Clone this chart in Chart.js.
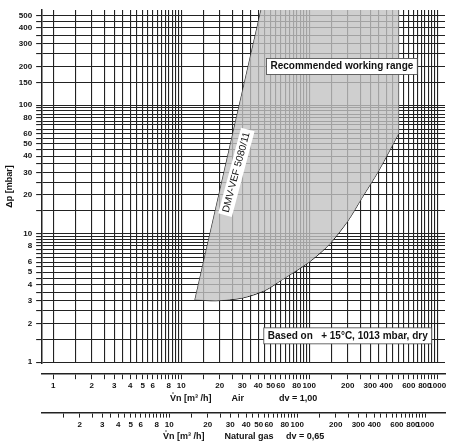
<!DOCTYPE html>
<html lang="en">
<head>
  <meta charset="UTF-8">
  <title>Pressure drop chart</title>
  <script src="https://cdn.jsdelivr.net/npm/chart.js"></script>
  <style>
    body { margin: 0; background: #fff; }
    #wrap { width: 457px; height: 448px; }
  </style>
</head>
<body>
<div id="wrap"><canvas id="chart"></canvas></div>
<script>
  // grid steps inside one decade
  const decadeSteps = [1, 1.5, 2, 2.5, 3, 3.5, 4, 4.5, 5, 5.5, 6, 6.5, 7, 7.5, 8, 8.5, 9, 9.5];
  const xLabels = [1, 2, 3, 4, 5, 6, 8, 10, 20, 30, 40, 50, 60, 80, 100, 200, 300, 400, 600, 800, 1000];
  const gasLabels = [2, 3, 4, 5, 6, 8, 10, 20, 30, 40, 50, 60, 80, 100, 200, 300, 400, 600, 800, 1000];
  const yLabels = [1, 2, 3, 4, 5, 6, 8, 10, 20, 30, 40, 50, 60, 80, 100, 150, 200, 300, 400, 500];

  // boundary of the recommended working range (air flow, mbar)
  const leftEdgeX = [12.8, 42];
  const leftEdgeY = [3.05, 550];
  const bottomX = [12.8, 18.7, 30, 45, 62, 100, 143, 200, 257, 350, 500];
  const bottomY = [3.05, 3.0, 3.15, 3.6, 4.4, 6.0, 8.2, 12.5, 18.8, 31, 60];
  const rightEdgeX = [500, 500];
  const rightEdgeY = [60, 550];

  const gasFactor = 1.24; // sqrt(1 / 0.65)
  const xMin = 0.82, xMax = 1150, yMin = 0.98, yMax = 550;

  function gridValues(lo, hi) {
    const out = [];
    for (let d = 0.1; d <= 1000; d *= 10) {
      decadeSteps.forEach(s => {
        const v = Math.round(s * d * 1000) / 1000;
        if (v >= lo && v <= hi) out.push(v);
      });
    }
    return out;
  }

  const curve = bottomX.map((x, i) => ({ x: x, y: bottomY[i] }));
  const polygon = [
    { x: leftEdgeX[0], y: leftEdgeY[0] },
    { x: leftEdgeX[1], y: leftEdgeY[1] },
    { x: rightEdgeX[1], y: rightEdgeY[1] },
    { x: rightEdgeX[0], y: rightEdgeY[0] }
  ].concat(curve.slice().reverse());
  const leftLine = leftEdgeX.map((x, i) => ({ x: x, y: leftEdgeY[i] }));

  // text boxes drawn on top
  const notes = {
    id: 'notes',
    afterDatasetsDraw(chart) {
      const c = chart.ctx, xs = chart.scales.x, ys = chart.scales.y;
      function box(text, px, py) {
        c.save();
        c.font = 'bold 10px Arial, "Liberation Sans", sans-serif';
        const w = c.measureText(text).width + 8;
        c.fillStyle = '#fff';
        c.fillRect(px - w / 2, py - 8, w, 16);
        c.strokeStyle = '#444';
        c.lineWidth = 0.8;
        c.strokeRect(px - w / 2, py - 8, w, 16);
        c.fillStyle = '#111';
        c.textAlign = 'center';
        c.textBaseline = 'middle';
        c.fillText(text, px, py);
        c.restore();
      }
      box('Recommended working range', xs.getPixelForValue(180), ys.getPixelForValue(200));
      box('Based on   + 15\u00B0C, 1013 mbar, dry', xs.getPixelForValue(200), ys.getPixelForValue(1.6));
      c.save();
      c.font = '10px Arial, "Liberation Sans", sans-serif';
      c.translate(xs.getPixelForValue(27), ys.getPixelForValue(30));
      c.rotate(-1.31);
      const t = 'DMV-VEF 5080/11';
      const w = c.measureText(t).width + 6;
      c.fillStyle = '#fff';
      c.fillRect(-w / 2, -7, w, 14);
      c.fillStyle = '#111';
      c.textAlign = 'center';
      c.textBaseline = 'middle';
      c.fillText(t, 0, 0);
      c.restore();
    }
  };

  const axisFont = { family: 'Arial, "Liberation Sans", sans-serif', size: 8, weight: 'bold' };

  new Chart(document.getElementById('chart'), {
    type: 'scatter',
    data: {
      datasets: [
        { data: polygon, showLine: true, fill: 'shape', backgroundColor: 'rgba(195,195,195,0.8)',
          borderWidth: 0, borderColor: 'rgba(0,0,0,0)', pointRadius: 0, tension: 0 },
        { data: leftLine, showLine: true, fill: false, borderColor: '#222', borderWidth: 1,
          pointRadius: 0, tension: 0 },
        { data: curve, showLine: true, fill: false, borderColor: '#222', borderWidth: 1,
          pointRadius: 0, tension: 0.3 }
      ]
    },
    options: {
      responsive: true,
      maintainAspectRatio: false,
      animation: false,
      layout: { padding: { top: 10, right: 12, left: 4, bottom: 4 } },
      plugins: { legend: { display: false }, tooltip: { enabled: false } },
      scales: {
        x: {
          type: 'logarithmic', min: xMin, max: xMax, position: 'bottom',
          afterBuildTicks: s => { s.ticks = gridValues(1, 1000).map(v => ({ value: v })); },
          ticks: { display: false, autoSkip: false },
          grid: { color: '#222', lineWidth: 1.1, tickLength: 11, tickColor: 'rgba(0,0,0,0)' },
          border: { display: false }
        },
        xAir: {
          type: 'logarithmic', min: xMin, max: xMax, position: 'bottom',
          afterBuildTicks: s => { s.ticks = gridValues(1, 1000).map(v => ({ value: v })); },
          ticks: {
            autoSkip: false, maxRotation: 0, padding: 2, color: '#111', font: axisFont,
            callback: v => xLabels.includes(v) ? String(v) : ''
          },
          grid: { drawOnChartArea: false, tickLength: 5, color: '#222' },
          border: { display: true, color: '#222', width: 1.5 },
          title: { display: true, text: 'V\u030An [m\u00B3 /h]        Air              dv = 1,00',
                   color: '#111', font: { family: axisFont.family, size: 9, weight: 'bold' },
                   padding: { top: 0, bottom: 9 } }
        },
        xGas: {
          type: 'logarithmic', min: xMin * gasFactor, max: xMax * gasFactor, position: 'bottom',
          afterBuildTicks: s => { s.ticks = gridValues(1.1, 1000).map(v => ({ value: v })); },
          ticks: {
            autoSkip: false, maxRotation: 0, padding: 2, color: '#111', font: axisFont,
            callback: v => gasLabels.includes(v) ? String(v) : ''
          },
          grid: { drawOnChartArea: false, tickLength: 5, color: '#222' },
          border: { display: true, color: '#222', width: 1.5 },
          title: { display: true, text: 'V\u030An [m\u00B3 /h]        Natural gas     dv = 0,65',
                   color: '#111', font: { family: axisFont.family, size: 9, weight: 'bold' },
                   padding: { top: 0, bottom: 2 } }
        },
        y: {
          type: 'logarithmic', min: yMin, max: yMax,
          afterBuildTicks: s => { s.ticks = gridValues(1, 500).map(v => ({ value: v })); },
          ticks: {
            autoSkip: false, padding: 4, color: '#111', font: axisFont,
            callback: v => yLabels.includes(v) ? String(v) : ''
          },
          grid: { color: '#222', lineWidth: 1.1, tickLength: 6, tickColor: '#222' },
          border: { display: true, color: '#222', width: 1.5 },
          title: { display: true, text: '\u0394p [mbar]', color: '#111',
                   font: { family: axisFont.family, size: 9, weight: 'bold' }, padding: 0 }
        }
      }
    },
    plugins: [notes]
  });
</script>
</body>
</html>
